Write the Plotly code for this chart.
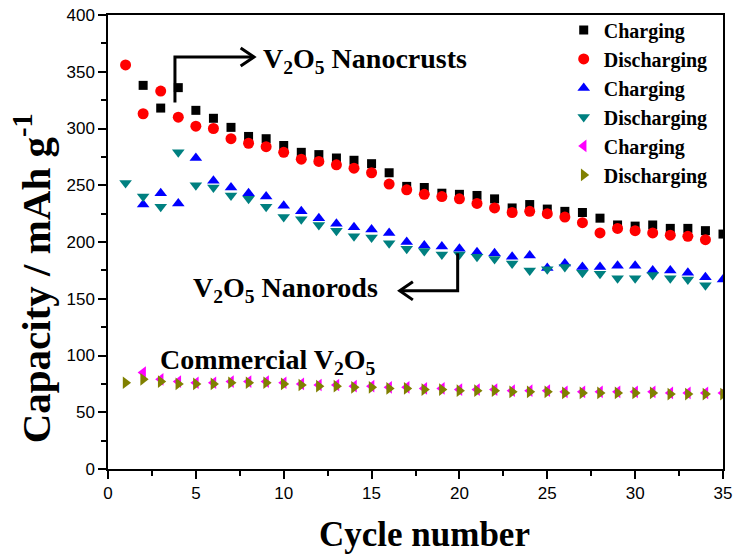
import plotly.graph_objects as go

# V2O5 Nanocrusts
crust_charge_x = list(range(2, 36))
crust_charge = [338, 318, 336, 316, 309, 301, 293, 291, 285, 279, 277, 274, 272, 269, 261,
                249, 248, 243, 242, 241, 238, 230, 233, 229, 227, 226, 221, 215, 214, 215,
                212, 212, 210, 207]
crust_dis_x = list(range(1, 35))
crust_dis = [356, 313, 333, 310, 302, 300, 291, 287, 284, 279, 273, 271, 268, 265, 261,
             251, 246, 242, 240, 238, 234, 230, 226, 227, 225, 222, 217, 208, 212, 210,
             208, 206, 205, 202]

# V2O5 Nanorods
rod_charge_x = list(range(2, 36))
rod_charge = [233, 243, 234, 274, 254, 248, 243, 240, 232, 227, 221, 216, 213, 211, 208,
              200, 197, 196, 194, 191, 190, 187, 188, 177, 181, 178, 178, 179, 179, 175,
              175, 173, 169, 167]
rod_dis_x = list(range(1, 35))
rod_dis = [252, 240, 231, 279, 250, 248, 241, 238, 231, 222, 220, 215, 210, 205, 204,
           199, 194, 192, 189, 189, 187, 185, 181, 175, 176, 178, 173, 172, 168, 168,
           171, 168, 167, 162]

# Commercial V2O5
com_charge_x = list(range(2, 36))
com_charge = [85, 79, 77, 76, 76, 77, 77, 77, 76, 75, 74, 74, 73, 73, 72, 72, 71, 71, 70,
              70, 70, 69, 69, 69, 68, 68, 68, 68, 68, 68, 67, 67, 67, 67]
com_dis_x = list(range(1, 36))
com_dis = [76, 79, 77, 75, 75, 75, 76, 76, 76, 75, 74, 73, 73, 72, 72, 71, 71, 70, 70, 69,
           69, 69, 68, 68, 68, 67, 67, 67, 67, 67, 67, 66, 66, 66, 66]

series = [
    ("Charging", crust_charge_x, crust_charge, "square", "#000000", 9),
    ("Discharging", crust_dis_x, crust_dis, "circle", "#FF0000", 11),
    ("Charging", rod_charge_x, rod_charge, "triangle-up", "#0000FF", 11),
    ("Discharging", rod_dis_x, rod_dis, "triangle-down", "#008080", 11),
    ("Charging", com_charge_x, com_charge, "triangle-left", "#FF00FF", 11),
    ("Discharging", com_dis_x, com_dis, "triangle-right", "#808000", 11),
]

fig = go.Figure()
for name, xs, ys, sym, col, sz in series:
    fig.add_trace(go.Scatter(x=xs, y=ys, mode="markers", name=name,
                             marker=dict(symbol=sym, color=col, size=sz, line=dict(width=0))))

serif = "Liberation Serif"
line_style = dict(color="black", width=3)

# Nanocrusts arrow
fig.add_shape(type="path", xref="x", yref="y",
              path="M 3.81,323 L 3.81,363 L 8.3,363", line=line_style)
fig.add_shape(type="path", xref="x", yref="y",
              path="M 7.55,371 L 8.31,363 L 7.55,355", line=line_style)
# Nanorods arrow
fig.add_shape(type="path", xref="x", yref="y",
              path="M 19.9,190 L 19.9,157 L 16.7,157", line=line_style)
fig.add_shape(type="path", xref="x", yref="y",
              path="M 17.35,165 L 16.6,157 L 17.35,149", line=line_style)

ann_font = dict(family=serif, size=28, color="black")
fig.add_annotation(x=14.6, y=360, xref="x", yref="y", showarrow=False,
                   text="<b>V<sub>2</sub>O<sub>5</sub> Nanocrusts</b>", font=ann_font)
fig.add_annotation(x=10.1, y=158, xref="x", yref="y", showarrow=False,
                   text="<b>V<sub>2</sub>O<sub>5</sub> Nanorods</b>", font=ann_font)
fig.add_annotation(x=9.1, y=95, xref="x", yref="y", showarrow=False,
                   text="<b>Commercial V<sub>2</sub>O<sub>5</sub></b>", font=ann_font)

# Axis titles as annotations for precise placement
fig.add_annotation(x=-0.123, y=0.4207, xref="paper", yref="paper", showarrow=False,
                   xanchor="center", yanchor="middle", textangle=-90,
                   text="<b>Capacity / mAh g<sup>-1</sup></b>",
                   font=dict(family=serif, size=41, color="black"))
fig.add_annotation(x=0.5154, y=-0.145, xref="paper", yref="paper", showarrow=False,
                   xanchor="center", yanchor="middle",
                   text="<b>Cycle number</b>",
                   font=dict(family=serif, size=35, color="black"))

fig.update_layout(
    width=733, height=558,
    margin=dict(l=108, r=10, t=15, b=89, autoexpand=False),
    plot_bgcolor="white", paper_bgcolor="white",
    showlegend=True,
    legend=dict(x=0.741, y=1.01, xanchor="left", yanchor="top",
                bgcolor="rgba(0,0,0,0)", borderwidth=0,
                font=dict(family=serif, size=20, color="black", weight="bold"),
                tracegroupgap=0, itemsizing="trace"),
    font=dict(family="Liberation Sans", color="black"),
)
fig.update_xaxes(range=[0, 35], dtick=5, tick0=0, showgrid=False, zeroline=False,
                 automargin=False,
                 showline=True, linecolor="black", linewidth=1.5, mirror=True,
                 ticks="outside", ticklen=8, tickwidth=1.5, tickcolor="black",
                 tickfont=dict(family="Liberation Sans", size=17, color="black"),
                 minor=dict(dtick=2.5, ticks="outside", ticklen=5, tickwidth=1.5, tickcolor="black", showgrid=False))
fig.update_yaxes(range=[0, 400], dtick=50, tick0=0, showgrid=False, zeroline=False,
                 automargin=False,
                 showline=True, linecolor="black", linewidth=1.5, mirror=True,
                 ticks="outside", ticklen=8, tickwidth=1.5, tickcolor="black",
                 tickfont=dict(family="Liberation Sans", size=17, color="black"),
                 minor=dict(dtick=25, ticks="outside", ticklen=5, tickwidth=1.5, tickcolor="black", showgrid=False))

fig.write_html("out.html")
